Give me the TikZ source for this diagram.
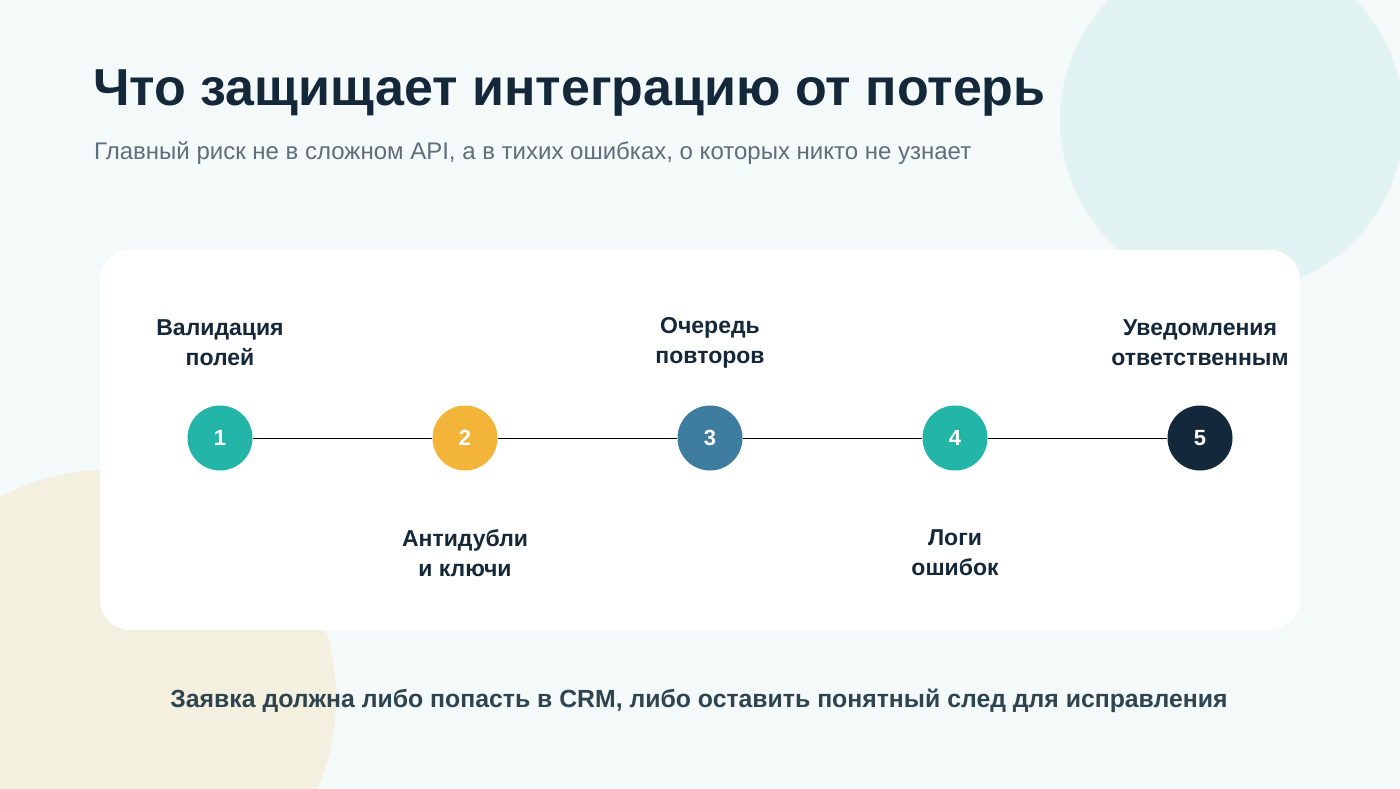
\documentclass[tikz,border=0pt]{standalone}
\usepackage{fontspec}
\setmainfont{Liberation Sans}
\definecolor{bg}{HTML}{F4F9F9}
\definecolor{tealc}{HTML}{E2F3F3}
\definecolor{sandc}{HTML}{F4F0E0}
\definecolor{ink}{HTML}{15283A}
\definecolor{sub}{HTML}{5E6E7A}
\definecolor{foot}{HTML}{2E4550}
\definecolor{c1}{HTML}{22B5A8}
\definecolor{c2}{HTML}{F2B53A}
\definecolor{c3}{HTML}{3E7DA0}
\definecolor{c5}{HTML}{13283A}
\begin{document}
\begin{tikzpicture}[x=1pt,y=-1pt,
  dot/.style={circle,minimum size=65pt,inner sep=0pt,text=white,font=\bfseries\fontsize{22}{24}\selectfont},
  lbl/.style={align=center,text=ink,font=\bfseries\fontsize{23}{30}\selectfont}]
\useasboundingbox (0,0) rectangle (1400,788);
\begin{scope}
\clip (0,0) rectangle (1400,788);
\fill[bg] (0,0) rectangle (1400,788);
\fill[tealc] (1232,120) circle (172);
\fill[sandc] (108,698) circle (228);
\end{scope}
\node[anchor=base west,text=ink,font=\bfseries\fontsize{52}{60}\selectfont,inner sep=0pt] (title) at (93,105) {Что защищает интеграцию от потерь};
\node[anchor=base west,text=sub,font=\fontsize{24}{28}\selectfont,inner sep=0pt] (subt) at (94,159) {Главный риск не в сложном API, а в тихих ошибках, о которых никто не узнает};
\fill[white,rounded corners=30pt] (100,250) rectangle (1300,630);
\node[dot,fill=c1] (n1) at (220,438) {1};
\node[dot,fill=c2] (n2) at (465,438) {2};
\node[dot,fill=c3] (n3) at (710,438) {3};
\node[dot,fill=c1] (n4) at (955,438) {4};
\node[dot,fill=c5] (n5) at (1200,438) {5};
\draw[black,line width=0.8pt] (n1)--(n2) (n2)--(n3) (n3)--(n4) (n4)--(n5);
\node[lbl] (l1) at (220,343) {Валидация\\полей};
\node[lbl] (l2) at (465,553) {Антидубли\\и ключи};
\node[lbl] (l3) at (710,343) {Очередь\\повторов};
\node[lbl] (l4) at (955,553) {Логи\\ошибок};
\node[lbl] (l5) at (1200,343) {Уведомления\\ответственным};
\node[text=foot,font=\bfseries\fontsize{24.8}{28}\selectfont] (ft) at (699,701) {Заявка должна либо попасть в CRM, либо оставить понятный след для исправления};
\end{tikzpicture}
\end{document}
